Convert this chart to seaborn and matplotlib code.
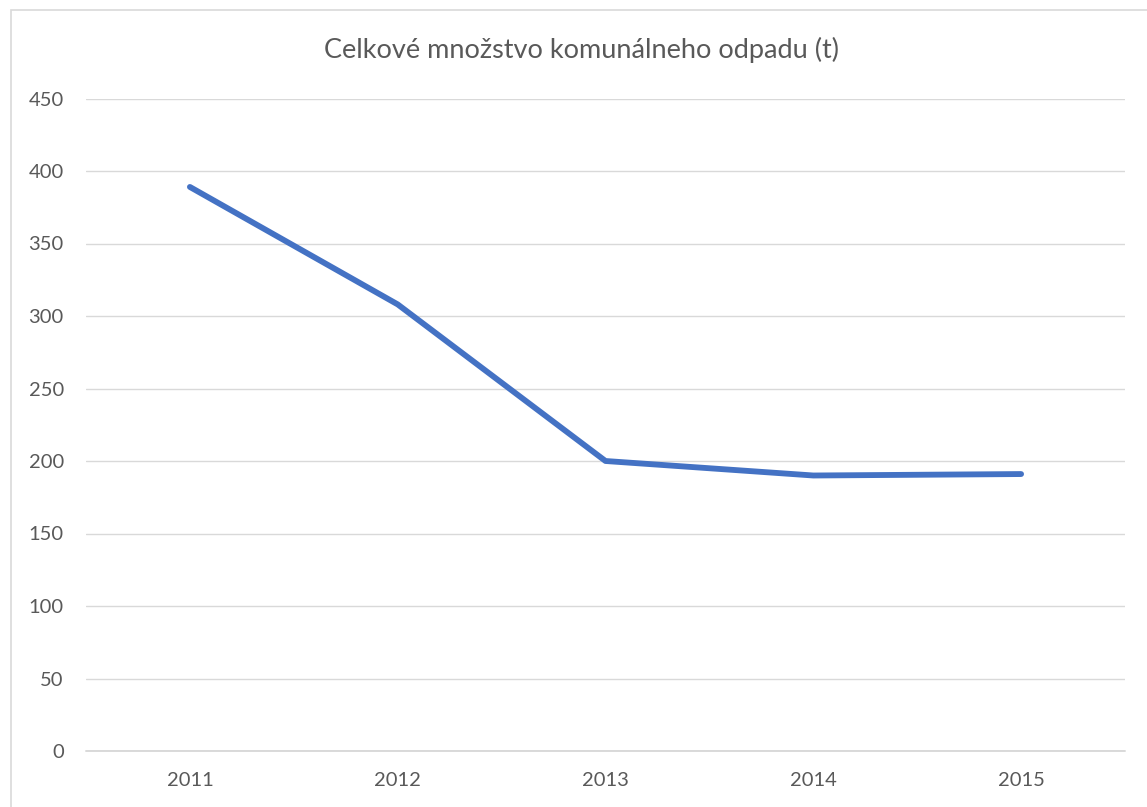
import matplotlib
matplotlib.use("Agg")
import matplotlib.pyplot as plt
import seaborn as sns
import pandas as pd
from matplotlib.patches import Rectangle

# hodnoty odčítané z grafu
roky = ["2011", "2012", "2013", "2014", "2015"]
odpad_t = [389, 308, 200, 190, 191]
y_ticks = [0, 50, 100, 150, 200, 250, 300, 350, 400, 450]

TEXT = "#595959"
GRID = "#d9d9d9"
LINE = "#4472C4"

sns.set_theme(style="white")
plt.rcParams["font.family"] = ["Lato", "DejaVu Sans"]

df = pd.DataFrame({"rok": roky, "odpad": odpad_t})

fig = plt.figure(figsize=(11.47, 8.07), dpi=100)
ax = fig.add_axes([86 / 1147, 1 - 751 / 807, 1039 / 1147, 652.5 / 807])

sns.lineplot(data=df, x="rok", y="odpad", ax=ax, color=LINE,
             linewidth=4.2, solid_capstyle="round", solid_joinstyle="round",
             zorder=3)

ax.set_xlim(-0.5, len(roky) - 0.5)
ax.set_ylim(0, 450)
ax.set_yticks(y_ticks)
ax.set_yticklabels([str(v) for v in y_ticks])
ax.yaxis.grid(True, color=GRID, linewidth=1.0)
ax.xaxis.grid(False)
# os x (nulová čiara) - inak sa oreže na okraji
ax.axhline(0, color=GRID, linewidth=1.4, clip_on=False, zorder=1)
for s in ax.spines.values():
    s.set_visible(False)
ax.tick_params(axis="both", length=0, labelsize=14.5, labelcolor=TEXT)
ax.tick_params(axis="y", pad=16)
ax.tick_params(axis="x", pad=15)
ax.set_xlabel("")
ax.set_ylabel("")

fig.text(582 / 1147, 1 - 50 / 807, "Celkové množstvo komunálneho odpadu (t)",
         ha="center", va="center", fontsize=19.5, color=TEXT)

# okraj oblasti grafu (orezaný vpravo a dole)
fig.patches.append(Rectangle((10.5 / 1147, -0.1), 1.2, 1.1 - 9.5 / 807,
                             transform=fig.transFigure, fill=False,
                             edgecolor=GRID, linewidth=1.2))

fig.savefig("out.png", dpi=100)
